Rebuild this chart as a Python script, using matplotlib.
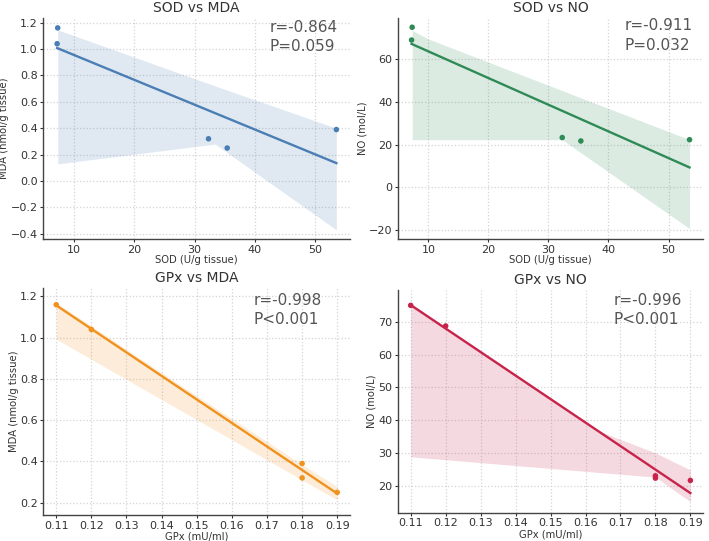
import numpy as np
import matplotlib
matplotlib.use("Agg")
import matplotlib.pyplot as plt

# ---- data ----
sod = [7.3, 7.2, 32.3, 35.4, 53.5]
gpx = [0.11, 0.12, 0.18, 0.18, 0.19]
mda_sod = [1.16, 1.04, 0.32, 0.25, 0.39]
no_sod = [75.0, 69.0, 23.3, 21.7, 22.3]
mda_gpx = [1.16, 1.04, 0.39, 0.32, 0.25]
no_gpx = [75.0, 68.7, 23.0, 22.3, 21.6]

# confidence band outlines
band1_x = [7.3, 11.3, 33.4, 53.5]
band1_up = [1.145, 1.08, 0.72, 0.40]
band1_lo = [0.13, 0.153, 0.28, -0.37]

band2_x = [7.3, 10.0, 32.3, 53.5]
band2_up = [73.5, 69.5, 45.3, 22.3]
band2_lo = [22.3, 22.3, 22.3, -19.4]

band3_x = [0.11, 0.14, 0.18, 0.19]
band3_up = [1.17, 0.83, 0.385, 0.278]
band3_lo = [0.993, 0.70, 0.31, 0.213]

band4_x = [0.11, 0.164, 0.18, 0.19]
band4_up = [75.6, 36.6, 30.0, 24.8]
band4_lo = [28.8, 24.0, 22.6, 15.1]

titles = ["SOD vs MDA", "SOD vs NO", "GPx vs MDA", "GPx vs NO"]
xlabels = ["SOD (U/g tissue)", "SOD (U/g tissue)", "GPx (mU/ml)", "GPx (mU/ml)"]
ylabels = ["MDA (nmol/g tissue)", "NO (mol/L)", "MDA (nmol/g tissue)", "NO (mol/L)"]
stats = ["r=-0.864\nP=0.059", "r=-0.911\nP=0.032", "r=-0.998\nP<0.001", "r=-0.996\nP<0.001"]
colors = ["#4a7eb4", "#2f8a55", "#f0921e", "#c8234a"]

panels = [
    (sod, mda_sod, band1_x, band1_up, band1_lo),
    (sod, no_sod, band2_x, band2_up, band2_lo),
    (gpx, mda_gpx, band3_x, band3_up, band3_lo),
    (gpx, no_gpx, band4_x, band4_up, band4_lo),
]

# layout (figure fractions)
positions = [
    [0.061, 0.558, 0.433, 0.409],
    [0.561, 0.558, 0.431, 0.409],
    [0.061, 0.048, 0.433, 0.420],
    [0.561, 0.052, 0.431, 0.412],
]
xlims = [(4.9, 55.8), (4.9, 55.8), (0.1063, 0.1937), (0.1063, 0.1937)]
ylims = [(-0.44, 1.236), (-24.3, 79.4), (0.14, 1.242), (11.7, 79.7)]
xticks = [[10, 20, 30, 40, 50], [10, 20, 30, 40, 50],
          [0.11, 0.12, 0.13, 0.14, 0.15, 0.16, 0.17, 0.18, 0.19],
          [0.11, 0.12, 0.13, 0.14, 0.15, 0.16, 0.17, 0.18, 0.19]]
yticks = [[-0.4, -0.2, 0.0, 0.2, 0.4, 0.6, 0.8, 1.0, 1.2],
          [-20, 0, 20, 40, 60],
          [0.2, 0.4, 0.6, 0.8, 1.0, 1.2],
          [20, 30, 40, 50, 60, 70]]
text_pos = [(0.736, 0.915), (0.741, 0.92), (0.684, 0.903), (0.705, 0.91)]

fig = plt.figure(figsize=(7.09, 5.41), dpi=100)
fig.patch.set_facecolor("white")

for i, (x, y, bx, bu, bl) in enumerate(panels):
    ax = fig.add_axes(positions[i])
    c = colors[i]
    ax.fill_between(bx, bl, bu, color=c, alpha=0.17, linewidth=0, zorder=1)
    k, b = np.polyfit(x, y, 1)
    xs = np.array([min(x), max(x)])
    ax.plot(xs, k * xs + b, color=c, lw=1.7, zorder=3)
    ax.scatter(x, y, s=16, color=c, zorder=4, edgecolors="none")
    ax.set_xlim(*xlims[i])
    ax.set_ylim(*ylims[i])
    ax.set_xticks(xticks[i])
    ax.set_yticks(yticks[i])
    if i >= 2:
        ax.set_xticklabels(["%.2f" % v for v in xticks[i]])
    if i in (0, 2):
        ax.set_yticklabels(["%.1f" % v if v >= 0 else "\u2212%.1f" % -v for v in yticks[i]])
    ax.grid(True, linestyle=":", color="#d4d4d4", linewidth=0.9, zorder=0)
    ax.set_axisbelow(True)
    for s in ("top", "right"):
        ax.spines[s].set_visible(False)
    for s in ("left", "bottom"):
        ax.spines[s].set_color("#444444")
        ax.spines[s].set_linewidth(1.0)
    ax.tick_params(axis="both", labelsize=8, colors="#333333", length=2.5, width=0.8, pad=1.5)
    ax.set_title(titles[i], fontsize=10, color="#333333", pad=4)
    ax.set_xlabel(xlabels[i], fontsize=7.2, color="#333333", labelpad=0.5)
    ax.set_ylabel(ylabels[i], fontsize=7.2, color="#333333", labelpad=1)
    ax.text(text_pos[i][0], text_pos[i][1], stats[i], transform=ax.transAxes,
            fontsize=11, color="#555555", va="center", ha="left", linespacing=1.35)

fig.savefig("out.png", dpi=100, facecolor="white")
